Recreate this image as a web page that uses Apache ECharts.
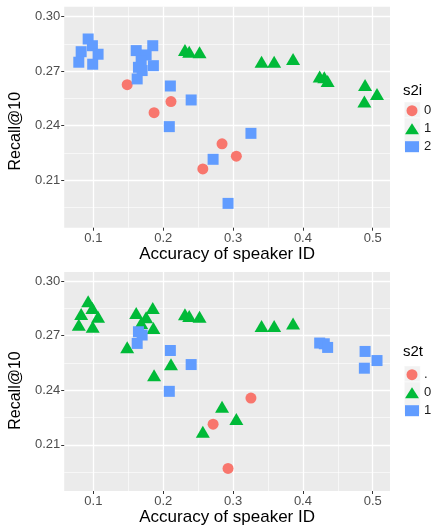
<!DOCTYPE html>
<html><head><meta charset="utf-8">
<script src="https://cdn.jsdelivr.net/npm/echarts@6/dist/echarts.min.js"></script>
<style>html,body{margin:0;padding:0;background:#fff}#c{width:432px;height:528px}</style>
</head><body><div id="c"></div>
<script>
// ---- data ----
const accuracy = [0.0925,0.0986,0.0825,0.1067,0.0791,0.0990,0.1613,0.1850,0.1755,0.1684,0.1859,0.1645,0.1698,0.1627,0.2102,0.2400,0.2087,0.3256,0.2714,0.2928,
  0.1484,0.2111,0.1869,0.2842,0.3047,0.2567,
  0.2311,0.2372,0.2520,0.3408,0.3588,0.3859,0.4240,0.4306,0.4354,0.4890,0.5061,0.4880];
const recall = [0.2877,0.2840,0.2807,0.2793,0.2749,0.2738,0.2813,0.2840,0.2789,0.2758,0.2730,0.2721,0.2703,0.2657,0.2618,0.2541,0.2394,0.2357,0.2214,0.1971,
  0.2625,0.2532,0.2471,0.2299,0.2231,0.2161,
  0.2806,0.2796,0.2793,0.2741,0.2741,0.2756,0.2659,0.2655,0.2635,0.2613,0.2563,0.2521];
const s2i = ['2','2','2','2','2','2','2','2','2','2','2','2','2','2','2','2','2','2','2','2',
  '0','0','0','0','0','0',
  '1','1','1','1','1','1','1','1','1','1','1','1'];
const s2t = ['0','0','0','0','0','0','0','0','0','0','0','1','1','1','1','1','1','.','.','.',
  '0','0','0','0','0','0',
  '0','0','0','0','0','0','1','1','1','1','1','1'];
const s2iLevels = ['0','1','2'];
const s2tLevels = ['.','0','1'];
const xTicks = [0.1,0.2,0.3,0.4,0.5];
const xMinor = [0.15,0.25,0.35,0.45];
const yTicks = [0.21,0.24,0.27,0.30];
const yMinor = [0.195,0.225,0.255,0.285];

// ---- styling ----
const FONT = 'Liberation Sans, Arial, Helvetica, sans-serif';
const shapes = [
  {symbol:'circle', size:11, color:'#F8766D', offset:[0,0]},
  {symbol:'triangle', size:[14,12], color:'#00BA38', offset:[0,-2]},
  {symbol:'rect', size:11, color:'#619CFF', offset:[0,0]}
];
const grids = [
  {left:62.5, top:6.7, width:327.5, height:221, show:true, backgroundColor:'#EBEBEB', borderWidth:0},
  {left:62.5, top:272, width:327.5, height:219, show:true, backgroundColor:'#EBEBEB', borderWidth:0}
];
const yRanges = [[0.1837,0.3055],[0.1847,0.3049]];
const xRange = [0.0582,0.5247];

function mainX(gi){
  return {type:'value', gridIndex:gi, min:xRange[0], max:xRange[1], position:'bottom',
    name:'Accuracy of speaker ID', nameLocation:'middle', nameGap:16,
    nameTextStyle:{fontFamily:FONT, fontSize:17, color:'#000'},
    axisLine:{show:false},
    axisTick:{show:true, length:3, customValues:xTicks, lineStyle:{color:'#333', width:1}},
    axisLabel:{customValues:xTicks, margin:4, fontFamily:FONT, fontSize:13, color:'#4D4D4D', formatter:v=>v.toFixed(1)},
    splitLine:{show:true, lineStyle:{color:'#FFFFFF', width:1.3}}
  };
}
function minorX(gi){
  return {type:'value', gridIndex:gi, min:xRange[0], max:xRange[1], position:'bottom',
    axisLine:{show:false}, axisTick:{show:false, customValues:xMinor}, axisLabel:{show:false, customValues:xMinor},
    splitLine:{show:true, lineStyle:{color:'#FFFFFF', width:0.6}}};
}
function mainY(gi, pad){
  return {type:'value', gridIndex:gi, min:yRanges[gi][0], max:yRanges[gi][1], position:'left',
    name:'Recall@10', nameLocation:'middle', nameGap:34,
    nameTextStyle:{fontFamily:FONT, fontSize:16, color:'#000', padding:[0,pad,0,0]},
    axisLine:{show:false},
    axisTick:{show:true, length:3, customValues:yTicks, lineStyle:{color:'#333', width:1}},
    axisLabel:{customValues:yTicks, margin:4, fontFamily:FONT, fontSize:13, color:'#4D4D4D', formatter:v=>v.toFixed(2)},
    splitLine:{show:true, lineStyle:{color:'#FFFFFF', width:1.3}}
  };
}
function minorY(gi){
  return {type:'value', gridIndex:gi, min:yRanges[gi][0], max:yRanges[gi][1], position:'left',
    axisLine:{show:false}, axisTick:{show:false, customValues:yMinor}, axisLabel:{show:false, customValues:yMinor},
    splitLine:{show:true, lineStyle:{color:'#FFFFFF', width:0.6}}};
}

function makeSeries(groups, levels, prefix, gi){
  return levels.map((lv,k)=>({
    type:'scatter', name:prefix+lv, xAxisIndex:gi*2, yAxisIndex:gi*2,
    symbol:shapes[k].symbol, symbolSize:shapes[k].size, symbolOffset:shapes[k].offset,
    itemStyle:{color:shapes[k].color, opacity:1},
    emphasis:{disabled:true},
    data: accuracy.map((x,i)=>[x, recall[i], groups[i]]).filter(d=>d[2]===lv).map(d=>[d[0],d[1]]),
    z:3
  }));
}
function makeLegend(levels, prefix, top){
  return {orient:'vertical', left:405, top:top, padding:0, itemGap:5, itemWidth:14, itemHeight:11,
    selectedMode:false,
    data: levels.map((lv,k)=>({name:prefix+lv, icon:shapes[k].symbol})),
    formatter: n => n.slice(prefix.length),
    textStyle:{fontFamily:FONT, fontSize:13, color:'#1A1A1A'}};
}
function keyBoxes(top){
  return [0,1,2].map(k=>({type:'rect', left:404, top:top+16*k, z:0,
    shape:{width:16, height:16}, style:{fill:'#F2F2F2', stroke:'#FFFFFF', lineWidth:0.5}}));
}

const chart = echarts.init(document.getElementById('c'), null, {renderer:'canvas'});
chart.setOption({
  animation:false,
  backgroundColor:'#FFFFFF',
  title:[
    {text:'s2i', left:403, top:83, padding:0, textStyle:{fontFamily:FONT, fontSize:15, fontWeight:'normal', color:'#000'}},
    {text:'s2t', left:403, top:344, padding:0, textStyle:{fontFamily:FONT, fontSize:15, fontWeight:'normal', color:'#000'}}
  ],
  grid: grids,
  xAxis:[mainX(0), minorX(0), mainX(1), minorX(1)],
  yAxis:[mainY(0,28), minorY(0), mainY(1,18), minorY(1)],
  legend:[makeLegend(s2iLevels,'s2i_',104.2), makeLegend(s2tLevels,'s2t_',368.2)],
  graphic: keyBoxes(101.7).concat(keyBoxes(365.7)),
  series: makeSeries(s2i, s2iLevels, 's2i_', 0).concat(makeSeries(s2t, s2tLevels, 's2t_', 1))
});
</script>
</body></html>
